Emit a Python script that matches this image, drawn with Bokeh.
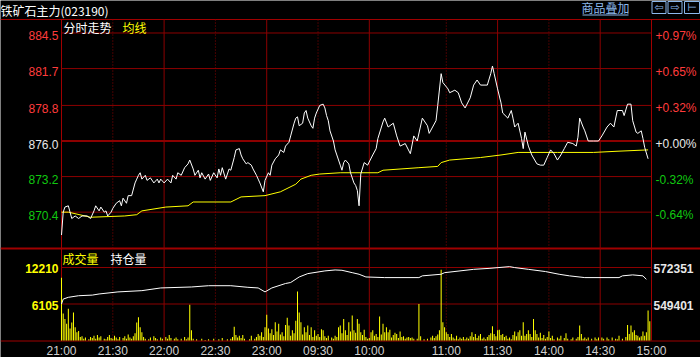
from bokeh.plotting import figure
from bokeh.models import Range1d
from bokeh.embed import file_html
from bokeh.resources import INLINE
from bokeh.core.properties import value

# ---------------- data ----------------
tick_minutes = [0, 30, 60, 90, 120, 150, 180, 225, 255, 285, 315, 345]
tick_labels = ["21:00", "21:30", "22:00", "22:30", "23:00", "09:30", "10:00",
               "11:00", "11:30", "14:00", "14:30", "15:00"]
solid_ticks = [60, 120, 180, 255, 315]
dotted_ticks = [30, 90, 150, 225, 285]

price_ticks = [884.5, 881.7, 878.8, 876.0, 873.2, 870.4]
price_labels = ["884.5", "881.7", "878.8", "876.0", "873.2", "870.4"]
pct_labels = ["+0.97%", "+0.65%", "+0.32%", "+0.00%", "-0.32%", "-0.64%"]
price_bottom = 867.5

vol_ticks = [12210, 6105]
vol_labels = ["12210", "6105"]
oi_ticks = [572351, 549401]
oi_labels = ["572351", "549401"]

price_t = [0, 1, 2, 4, 5, 6, 8, 10, 12, 15,
           17, 19, 20, 22, 23, 25, 26, 27, 29, 30,
           32, 34, 35, 36, 38, 39, 41, 43, 44, 45,
           46, 47, 49, 50, 52, 54, 56, 57, 58, 60,
           62, 64, 65, 67, 68, 70, 72, 74, 75, 77,
           78, 80, 81, 82, 84, 86, 87, 89, 91, 92,
           93, 94, 96, 98, 99, 101, 102, 104, 105, 106,
           108, 109, 111, 112, 114, 115, 116, 118, 119, 121,
           122, 123, 125, 127, 128, 130, 131, 133, 134, 136,
           137, 138, 139, 141, 142, 143, 144, 146, 147, 148,
           149, 151, 153, 154, 155, 156, 157, 159, 160, 161,
           163, 164, 165, 166, 168, 169, 171, 172, 173, 174,
           175, 177, 179, 182, 184, 185, 188, 189, 191, 194,
           196, 198, 201, 204, 206, 208, 211, 214, 215, 219,
           220, 222, 223, 226, 227, 230, 232, 234, 236, 239,
           241, 243, 245, 249, 251, 252, 253, 255, 257, 258,
           261, 263, 264, 265, 267, 269, 270, 271, 273, 275,
           278, 280, 282, 284, 286, 288, 290, 292, 294, 296,
           299, 301, 302, 303, 305, 306, 308, 311, 314, 316,
           319, 321, 323, 325, 328, 329, 331, 333, 334, 336,
           337, 339, 340, 341, 343]
price_v = [868.6, 870.4, 870.8, 870.9, 870.4, 869.9, 870.1, 869.9, 870.1, 870.1,
           869.9, 870.5, 870.9, 870.5, 870.8, 870.4, 870.5, 870.1, 870.4, 870.7,
           871.1, 871.3, 870.9, 871.5, 871.1, 871.7, 871.7, 872.7, 873.0, 873.3,
           873.5, 873.0, 873.3, 872.9, 873.1, 872.7, 873.0, 872.7, 873.0, 872.7,
           873.0, 872.7, 873.3, 873.0, 873.5, 873.3, 873.9, 874.2, 874.5, 873.8,
           873.3, 873.7, 873.1, 873.5, 873.0, 873.4, 872.9, 873.5, 873.1, 873.8,
           873.3, 873.9, 873.0, 873.8, 873.7, 874.7, 875.3, 875.4, 874.9, 874.6,
           874.2, 874.3, 874.1, 873.8, 873.3, 873.0, 872.7, 872.0, 872.9, 873.5,
           873.3, 874.1, 874.6, 874.9, 875.3, 875.1, 875.6, 875.9, 876.4, 877.4,
           877.8, 877.9, 877.2, 877.4, 878.2, 878.4, 877.8, 877.2, 877.0, 877.8,
           878.2, 878.8, 878.9, 878.6, 878.0, 877.6, 876.8, 876.0, 875.3, 874.9,
           874.1, 873.7, 874.3, 874.5, 874.2, 873.5, 872.7, 872.5, 872.1, 870.9,
           873.4, 874.3, 874.1, 874.9, 875.4, 876.2, 877.5, 877.8, 877.1, 877.4,
           876.4, 875.6, 875.8, 875.0, 876.4, 876.0, 877.8, 877.2, 876.6, 877.6,
           878.8, 881.3, 880.6, 880.1, 879.8, 880.0, 879.8, 879.0, 878.6, 879.4,
           880.4, 880.8, 880.4, 880.4, 881.3, 881.9, 881.3, 880.1, 879.0, 878.2,
           877.8, 878.4, 877.8, 877.1, 877.4, 876.2, 875.4, 876.7, 875.6, 874.9,
           874.2, 874.1, 874.1, 874.7, 875.3, 875.0, 874.5, 874.9, 875.4, 875.9,
           875.8, 875.6, 876.3, 877.8, 877.1, 876.8, 876.0, 876.0, 876.0, 876.4,
           877.1, 877.4, 877.1, 878.4, 878.4, 878.0, 878.9, 878.9, 877.6, 876.7,
           876.6, 876.8, 876.2, 875.5, 874.6]

avg_t = [0, 4, 17, 37, 44, 47, 61, 74, 77, 99, 105, 119, 128, 137, 140, 146,
         151, 163, 185, 188, 209, 220, 222, 227, 245, 257, 267, 290, 311, 326, 343]
avg_v = [870.4, 870.4, 870.0, 870.1, 870.2, 870.5, 870.8, 870.9, 871.2, 871.2,
         871.6, 871.7, 872.0, 872.6, 873.0, 873.3, 873.4, 873.5, 873.5, 873.7,
         873.9, 874.0, 874.3, 874.5, 874.7, 874.9, 875.1, 875.1, 875.1, 875.2, 875.3]

oi_t = [0, 1, 4, 10, 18, 22, 33, 47, 58, 76, 86, 99, 109, 115, 119, 123, 131, 134,
        139, 144, 154, 160, 164, 170, 174, 178, 189, 209, 211, 222, 224, 241, 250,
        262, 265, 273, 283, 291, 297, 306, 326, 328, 334, 340, 342]
oi_v = [549400, 552500, 553600, 554600, 555000, 555700, 557000, 557800, 559500,
        560100, 560900, 560900, 559900, 559500, 557000, 559500, 562300, 562900,
        566400, 568500, 570200, 570800, 570600, 569100, 568100, 566400, 566000,
        566000, 567100, 568100, 569100, 571200, 571800, 572900, 572300, 571200,
        569800, 568100, 567100, 566000, 566000, 567100, 567700, 567100, 564900]

volume = [
    10500, 4500, 3600, 2800, 5300, 2000, 3000, 4700, 2200, 1400, 1600, 600, 700, 300, 500,
    0, 200, 600, 400, 800, 300, 900, 500, 700, 0, 300, 200, 600, 900, 400,
    300, 800, 500, 200, 600, 0, 400, 700, 300, 1000, 500, 300, 700, 1200, 3000,
    3900, 2200, 1400, 600, 300, 0, 200, 500, 0, 700, 400, 200, 0, 500, 300,
    0, 600, 300, 900, 400, 0, 300, 500, 200, 0, 300, 0, 600, 200, 500,
    6000, 1700, 300, 0, 200, 0, 0, 300, 0, 100, 0, 200, 0, 0, 300,
    0, 0, 200, 0, 400, 0, 0, 200, 0, 300, 600, 2300, 900, 500, 800,
    400, 900, 300, 0, 0, 200, 800, 0, 300, 600, 1100, 800, 1400, 600, 2200,
    4300, 2000, 1200, 1900, 900, 3050, 1500, 2800, 1000, 1400, 700, 2600, 3800, 2500, 800,
    1700, 1200, 3300, 8200, 4700, 3050, 1000, 2200, 1400, 2500, 900, 2200, 600, 1700, 800,
    1100, 600, 1900, 1700, 700, 400, 800, 0, 500, 300, 800, 600, 2200, 2500, 1200,
    3600, 1700, 900, 3050, 1500, 4200, 1700, 1300, 3600, 2800, 1400, 900, 1800, 600, 300,
    400, 1400, 1700, 800, 1100, 600, 4000, 1000, 2800, 1400, 2200, 1400, 1800, 500, 900,
    1300, 1100, 400, 1500, 600, 700, 300, 500, 600, 400, 500, 300, 0, 300, 6100,
    700, 0, 200, 0, 300, 0, 500, 800, 400, 700, 1000, 1700, 11850, 3050, 2200,
    1400, 1100, 600, 1100, 500, 300, 800, 200, 500, 300, 600, 200, 500, 300, 700,
    1400, 600, 1100, 400, 800, 1100, 300, 500, 200, 600, 900, 1200, 2400, 1100, 700,
    1700, 1800, 900, 1100, 600, 800, 300, 500, 200, 900, 1500, 700, 1400, 1700, 800,
    3050, 800, 1100, 1700, 1100, 600, 3600, 1700, 1100, 500, 1300, 400, 900, 300, 600,
    1500, 400, 800, 200, 0, 500, 300, 800, 0, 400, 1200, 300, 0, 200, 500,
    0, 300, 600, 2500, 1100, 300, 500, 200, 500, 0, 300, 0, 500, 200, 500,
    0, 500, 300, 0, 500, 200, 0, 500, 0, 300, 200, 800, 0, 300, 0,
    600, 2600, 1100, 2500, 1400, 1700, 900, 800, 500, 700, 1500, 800, 1400, 5000, 3200]
vol_t = list(range(len(volume)))

# ---------------- styles ----------------
BG = "#000000"
GRID = "#8C0000"
FRAME = "#A00000"
RED = "#FF3C3C"
GREEN = "#10C810"
WHITE = "#E8E8E8"
YELLOW = "#FFFF00"
BLUE = "#8CB8EC"
LAT = value("Liberation Sans")
CJK = value("Noto Sans CJK SC")

p = figure(width=700, height=357, x_range=Range1d(0, 700), y_range=Range1d(357, 0),
           x_axis_type=None, y_axis_type=None, toolbar_location=None,
           output_backend="svg", min_border=0, background_fill_color=BG,
           border_fill_color=BG, outline_line_color=None)
p.extra_x_ranges = {"t": Range1d(-61 * 345 / 590, 639 * 345 / 590)}
p.extra_y_ranges = {
    "price": Range1d(876 - 216.5 / 12.706, 876 + 140.5 / 12.706),
    "vol": Range1d(-17 * 6105 / 36.5, 340 * 6105 / 36.5),
    "oi": Range1d(549401 - 53.5 * 22950 / 36.5, 549401 + 303.5 * 22950 / 36.5),
}

# panel frame lines (full width)
p.segment(x0=[0, 0, 0], x1=[700, 700, 700], y0=[19, 248, 340.5], y1=[19, 248, 340.5],
          line_color=[FRAME, FRAME, FRAME], line_width=[1, 2, 1])

# vertical grid
p.segment(x0=solid_ticks, x1=solid_ticks, y0=19, y1=340, x_range_name="t",
          line_color=GRID, line_width=1)
p.segment(x0=dotted_ticks, x1=dotted_ticks, y0=19, y1=340, x_range_name="t",
          line_color=GRID, line_width=1, line_dash="1 2")
p.segment(x0=[tick_minutes[0], tick_minutes[-1]], x1=[tick_minutes[0], tick_minutes[-1]],
          y0=19, y1=340, x_range_name="t", line_color=FRAME, line_width=1)

# horizontal grid - price
p.segment(x0=0, x1=345, y0=price_ticks, y1=price_ticks, x_range_name="t",
          y_range_name="price", line_color=GRID,
          line_width=[2 if v == 876.0 else 1 for v in price_ticks])
# horizontal grid - volume
p.segment(x0=0, x1=345, y0=vol_ticks, y1=vol_ticks, x_range_name="t",
          y_range_name="vol", line_color=GRID, line_width=1)

# volume bars
p.vbar(x=vol_t, top=volume, bottom=0, width=0.6, x_range_name="t",
       y_range_name="vol", fill_color=YELLOW, line_color=None)
# open interest
p.line(oi_t, oi_v, x_range_name="t", y_range_name="oi", line_color="white", line_width=1)

# price and average
p.line(avg_t, avg_v, x_range_name="t", y_range_name="price", line_color=YELLOW, line_width=1)
p.line(price_t, price_v, x_range_name="t", y_range_name="price", line_color="white",
       line_width=1)

# price axis labels
pcol = [RED, RED, RED, WHITE, GREEN, GREEN]
p.text(x=[58] * 6, y=price_ticks, text=price_labels, y_range_name="price",
       text_color=pcol, text_font=LAT, text_font_size="12px", text_align="right",
       text_baseline="middle", y_offset=3)
p.text(x=[655] * 6, y=price_ticks, text=pct_labels, y_range_name="price",
       text_color=pcol, text_font=LAT, text_font_size="12px", text_align="left",
       text_baseline="middle", y_offset=3)

# volume / OI labels
p.text(x=[58, 58], y=vol_ticks, text=vol_labels, y_range_name="vol", text_color=YELLOW,
       text_font=LAT, text_font_size="12px", text_font_style="bold", text_align="right",
       text_baseline="middle", y_offset=1)
p.text(x=[653, 653], y=oi_ticks, text=oi_labels, y_range_name="oi", text_color=WHITE,
       text_font=LAT, text_font_size="12px", text_font_style="bold", text_align="left",
       text_baseline="middle", y_offset=1)

# time labels
p.text(x=tick_minutes, y=[350] * len(tick_minutes), text=tick_labels, x_range_name="t",
       text_color="#D0D0D0", text_font=LAT, text_font_size="12px", text_align="center",
       text_baseline="middle")

# titles
p.text(x=[0], y=[10], text=["铁矿石主力(023190)"], text_color="white", text_font=CJK,
       text_font_size="12px", text_baseline="middle")
p.text(x=[63, 122], y=[27, 27], text=["分时走势", "均线"], text_color=["white", YELLOW],
       text_font=CJK, text_font_size="12px", text_baseline="middle")
p.text(x=[62, 110], y=[258, 258], text=["成交量", "持仓量"], text_color=[YELLOW, "white"],
       text_font=CJK, text_font_size="12px", text_baseline="middle")
p.text(x=[605], y=[7], text=["商品叠加"], text_color=BLUE, text_font=CJK,
       text_font_size="12px", text_align="center", text_baseline="middle")
p.segment(x0=[582], x1=[628], y0=[14.5], y1=[14.5], line_color=BLUE, line_width=1)

# buttons
p.rect(x=[658.5, 674.5, 691.5], y=[7, 7, 7], width=[14, 14, 15], height=[12, 12, 12],
       fill_color=None, line_color=BLUE, line_width=1)
p.text(x=[658.5, 674.5, 691.5], y=[7, 7, 7], text=["⇦", "⇨", "⊢"], text_color=BLUE,
       text_font=value("DejaVu Sans"), text_font_size="11px", text_align="center",
       text_baseline="middle")

open("out.html", "w").write(file_html(p, INLINE))
